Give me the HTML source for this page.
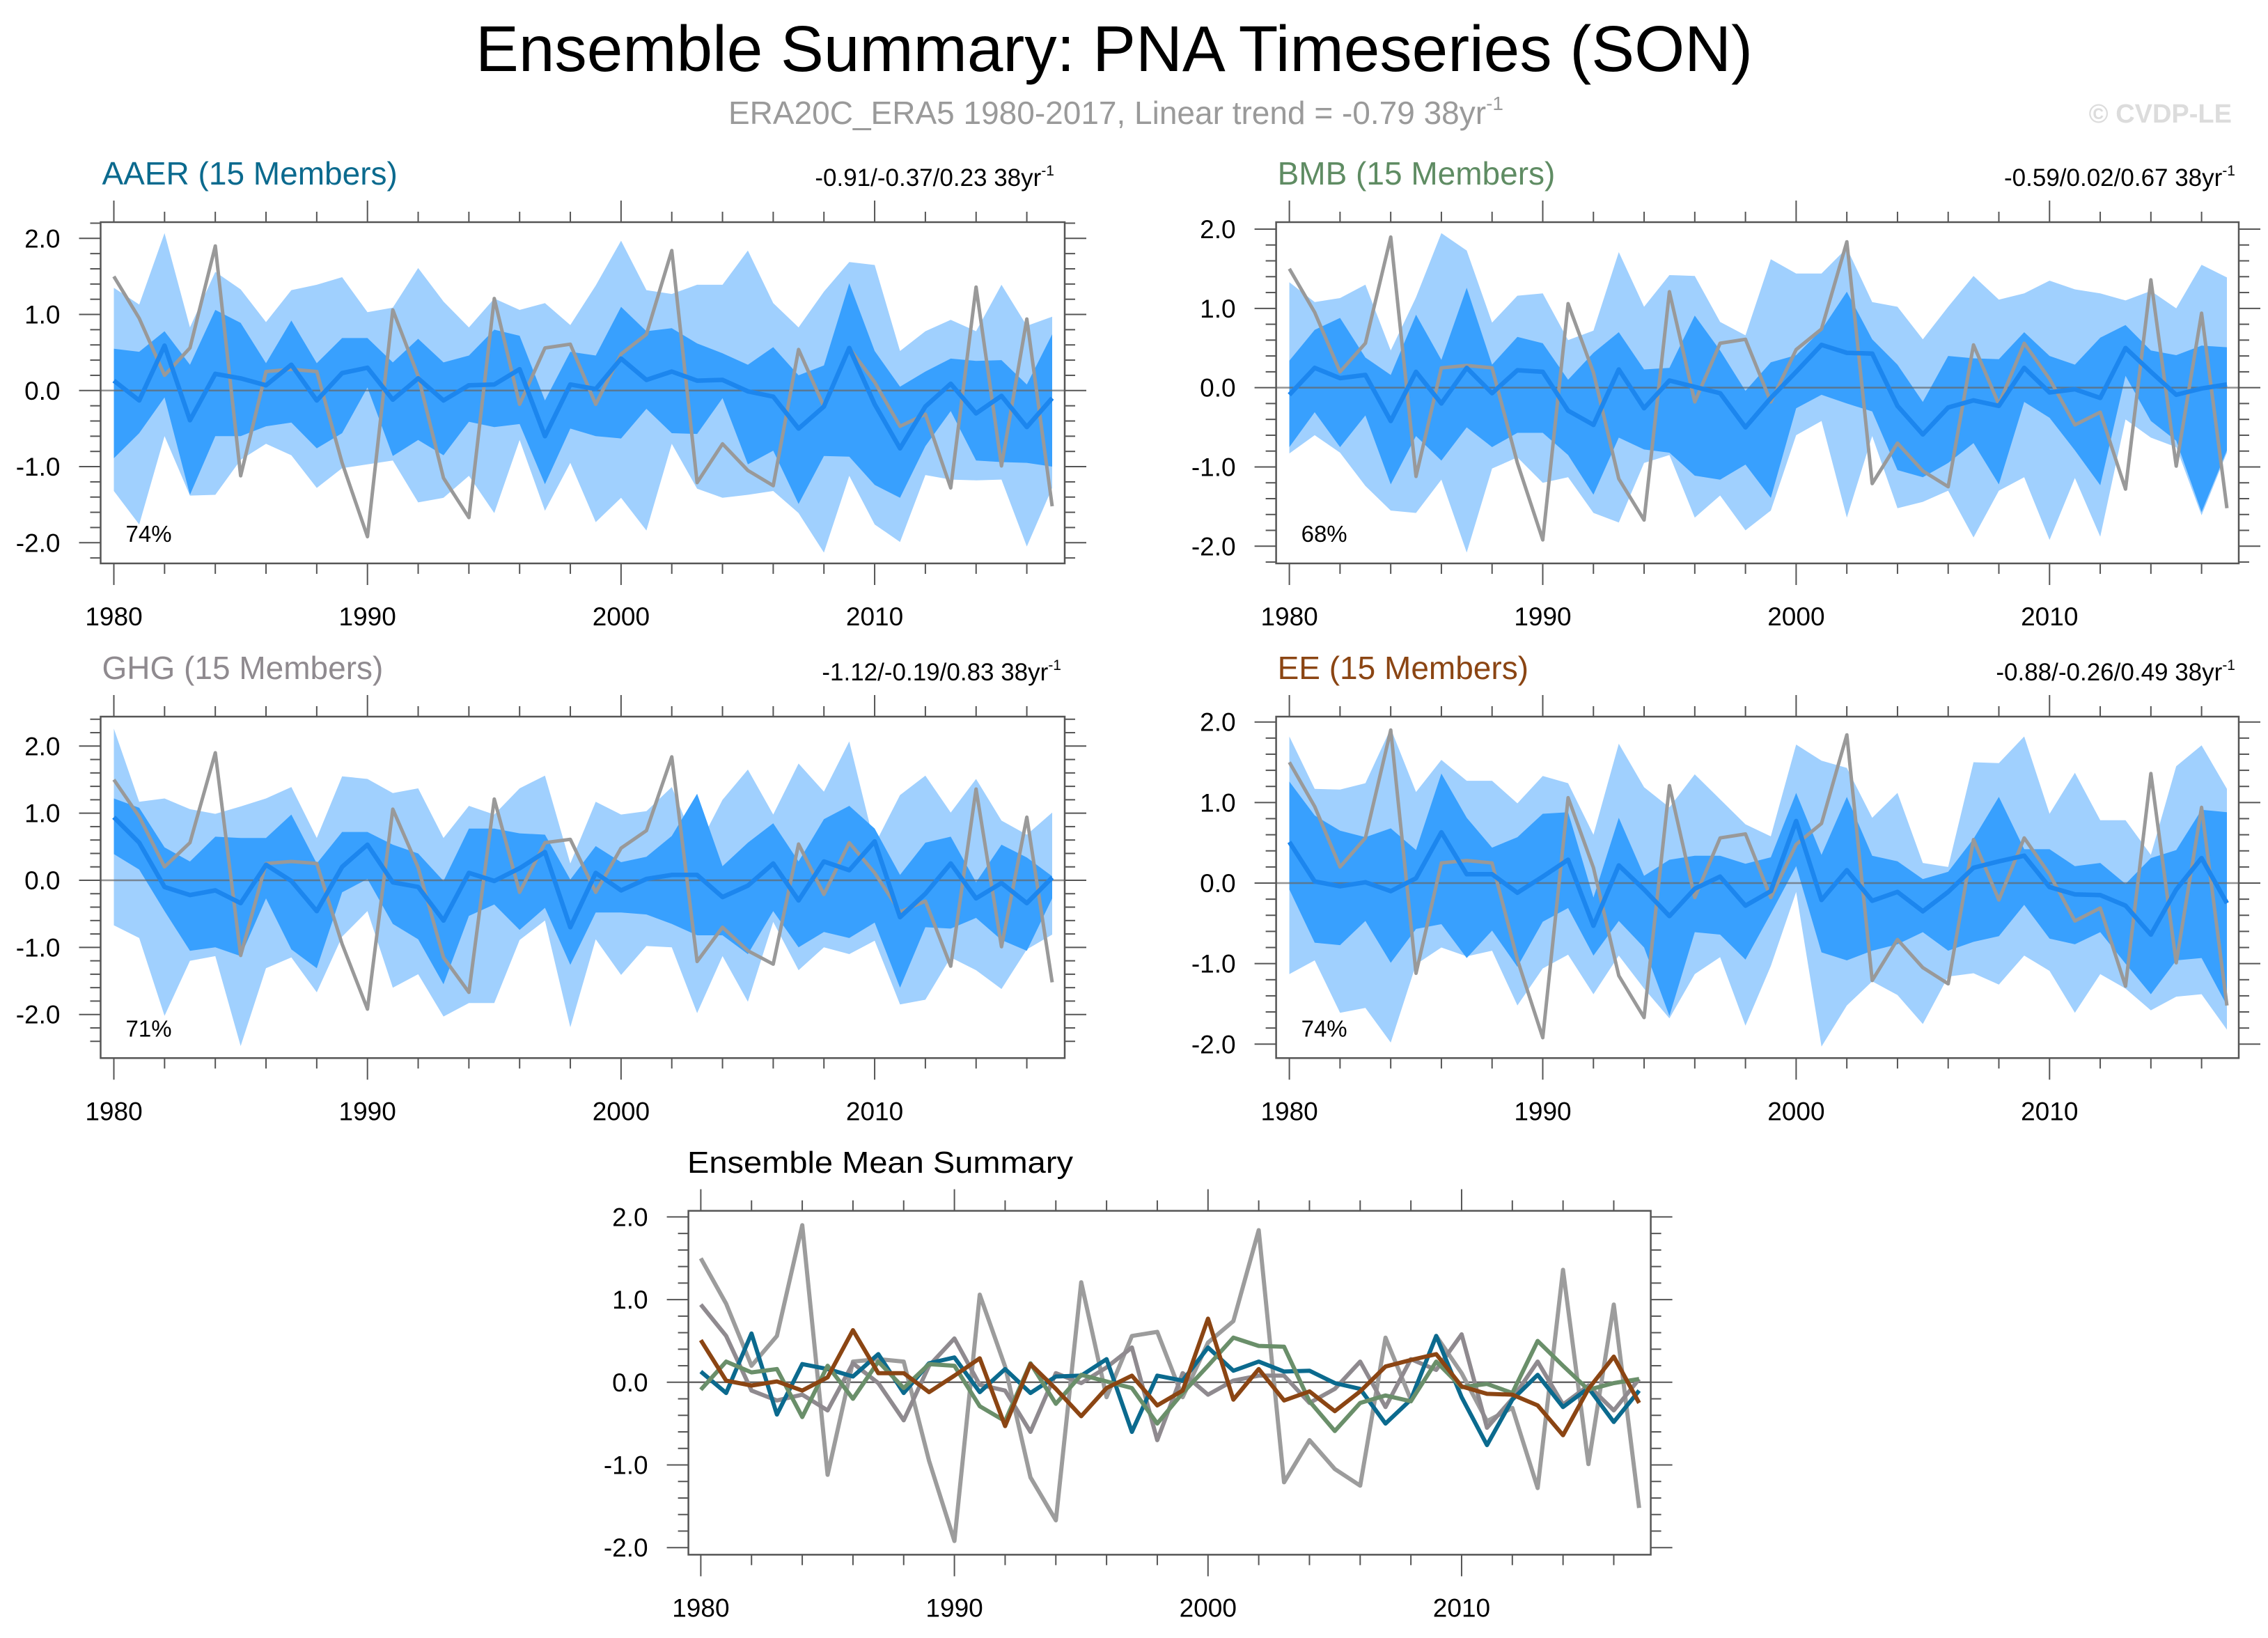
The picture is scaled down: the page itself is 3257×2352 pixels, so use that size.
<!DOCTYPE html>
<html><head><meta charset="utf-8"><title>Ensemble Summary: PNA Timeseries (SON)</title>
<style>html,body{margin:0;padding:0;background:#fff}svg{display:block}text{font-family:"Liberation Sans",Arial,sans-serif}</style>
</head><body>
<svg id="fig" xmlns="http://www.w3.org/2000/svg" width="3257" height="2352" viewBox="0 0 3257 2352">
<rect x="0" y="0" width="3257" height="2352" fill="#fff"/>
<text x="683" y="102" font-size="93" textLength="1834" lengthAdjust="spacingAndGlyphs" fill="#000">Ensemble Summary: PNA Timeseries (SON)</text>
<text x="1046" y="178" font-size="46" fill="#9a9a9a">ERA20C_ERA5 1980-2017, Linear trend = -0.79 38yr<tspan font-size="28" dy="-20">-1</tspan></text>
<text x="3205" y="176" font-size="38" font-weight="bold" fill="#dcdcdc" text-anchor="end">© CVDP-LE</text>
<g id="plots"></g>
</svg>
<script>
const years = [1980,1981,1982,1983,1984,1985,1986,1987,1988,1989,1990,1991,1992,1993,1994,1995,1996,1997,1998,1999,2000,2001,2002,2003,2004,2005,2006,2007,2008,2009,2010,2011,2012,2013,2014,2015,2016,2017];
const xTickLabels = [1980,1990,2000,2010];
const yTickLabels = ["2.0","1.0","0.0","-1.0","-2.0"];
const yTickValues = [2,1,0,-1,-2];
const obs = [1.5,0.95,0.2,0.56,1.9,-1.12,0.25,0.28,0.25,-0.95,-1.92,1.06,0.19,-1.15,-1.67,1.21,-0.18,0.56,0.61,-0.18,0.48,0.74,1.84,-1.21,-0.7,-1.05,-1.25,0.54,-0.21,0.56,0.11,-0.47,-0.31,-1.28,1.36,-0.99,0.94,-1.52];

const aaerMean = [0.13,-0.13,0.59,-0.39,0.22,0.16,0.07,0.34,-0.13,0.23,0.3,-0.12,0.16,-0.13,0.07,0.08,0.28,-0.6,0.08,0.02,0.42,0.14,0.25,0.13,0.14,-0.01,-0.08,-0.5,-0.21,0.56,-0.18,-0.76,-0.21,0.09,-0.3,-0.07,-0.48,-0.1];
const aaerOuterHi = [1.35,1.13,2.07,0.83,1.56,1.33,0.9,1.32,1.39,1.49,1.03,1.09,1.61,1.17,0.83,1.21,1.06,1.15,0.86,1.38,1.97,1.32,1.27,1.39,1.39,1.84,1.15,0.83,1.3,1.69,1.65,0.52,0.78,0.93,0.78,1.39,0.85,0.97];
const aaerInnerHi = [0.55,0.51,0.78,0.34,1.06,0.89,0.36,0.92,0.36,0.69,0.69,0.37,0.68,0.37,0.46,0.8,0.72,-0.13,0.51,0.46,1.1,0.78,0.82,0.62,0.49,0.34,0.57,0.2,0.33,1.41,0.52,0.05,0.25,0.42,0.39,0.4,0.08,0.74];
const aaerInnerLo = [-0.89,-0.56,-0.09,-1.37,-0.6,-0.6,-0.47,-0.42,-0.76,-0.56,0.04,-0.86,-0.65,-0.85,-0.41,-0.48,-0.44,-1.23,-0.5,-0.6,-0.63,-0.24,-0.56,-0.57,-0.1,-0.97,-0.79,-1.49,-0.86,-0.87,-1.24,-1.41,-0.73,-0.27,-0.92,-0.94,-0.95,-1.0];
const aaerOuterLo = [-1.32,-1.76,-0.6,-1.38,-1.37,-0.91,-0.7,-0.85,-1.28,-1.02,-0.97,-0.92,-1.47,-1.41,-1.12,-1.61,-0.65,-1.58,-0.95,-1.73,-1.41,-1.84,-0.7,-1.29,-1.41,-1.37,-1.32,-1.61,-2.13,-1.12,-1.76,-1.99,-1.11,-1.17,-1.18,-1.17,-2.05,-1.28];

const bmbMean = [-0.09,0.25,0.12,0.16,-0.42,0.2,-0.2,0.25,-0.07,0.22,0.2,-0.29,-0.47,0.23,-0.26,0.09,0.01,-0.07,-0.5,-0.13,0.2,0.54,0.44,0.43,-0.23,-0.59,-0.25,-0.16,-0.23,0.25,-0.06,-0.02,-0.13,0.5,0.2,-0.09,-0.01,0.04];
const bmbOuterHi = [1.33,1.08,1.13,1.3,0.47,1.14,1.95,1.73,0.82,1.16,1.19,0.6,0.72,1.71,1.02,1.42,1.41,0.83,0.66,1.62,1.44,1.44,1.76,1.08,1.02,0.61,1.02,1.41,1.11,1.19,1.35,1.24,1.19,1.1,1.22,1.0,1.55,1.39];
const bmbInnerHi = [0.34,0.73,0.88,0.38,0.16,0.92,0.35,1.26,0.29,0.64,0.56,0.1,0.44,0.7,0.23,0.25,0.91,0.47,-0.04,0.32,0.41,0.73,1.21,0.61,0.29,-0.18,0.4,0.37,0.36,0.7,0.4,0.29,0.63,0.79,0.47,0.41,0.53,0.51];
const bmbInnerLo = [-0.75,-0.31,-0.75,-0.35,-1.22,-0.61,-0.92,-0.5,-0.75,-0.57,-0.57,-0.85,-1.35,-0.63,-0.78,-0.82,-1.11,-1.16,-0.97,-1.39,-0.26,-0.09,-0.2,-0.3,-1.04,-1.13,-0.95,-0.7,-1.22,-0.18,-0.38,-0.79,-1.23,0.15,-0.42,-0.67,-1.57,-0.79];
const bmbOuterLo = [-0.83,-0.6,-0.82,-1.24,-1.55,-1.58,-1.16,-2.08,-1.02,-0.88,-1.2,-1.13,-1.58,-1.7,-0.95,-0.85,-1.64,-1.36,-1.8,-1.55,-0.6,-0.42,-1.64,-0.61,-1.52,-1.44,-1.3,-1.89,-1.3,-1.13,-1.92,-1.14,-1.88,-0.4,-0.63,-0.75,-1.61,-0.82];

const ghgMean = [0.94,0.56,-0.1,-0.22,-0.15,-0.34,0.23,-0.01,-0.46,0.2,0.53,-0.03,-0.1,-0.6,0.11,-0.01,0.18,0.42,-0.7,0.11,-0.15,0.02,0.08,0.08,-0.25,-0.08,0.25,-0.3,0.28,0.15,0.58,-0.55,-0.2,0.25,-0.27,-0.04,-0.34,0.04];
const ghgOuterHi = [2.26,1.17,1.22,1.06,0.99,1.1,1.22,1.39,0.63,1.55,1.51,1.3,1.37,0.63,1.11,0.98,1.37,1.56,0.25,1.17,0.98,1.03,1.39,0.47,1.2,1.65,0.98,1.74,1.32,2.07,0.53,1.27,1.56,1.01,1.51,0.89,0.68,1.01];
const ghgInnerHi = [1.22,1.08,0.49,0.28,0.65,0.63,0.63,0.98,0.25,0.72,0.72,0.53,0.4,-0.01,0.77,0.77,0.7,0.68,0.01,0.51,0.27,0.35,0.66,1.29,0.21,0.56,0.85,0.28,0.91,1.11,0.77,0.08,0.56,0.65,-0.03,0.53,0.34,0.06];
const ghgInnerLo = [0.39,0.16,-0.46,-1.05,-1.0,-1.13,-0.27,-1.03,-1.31,-0.18,0.02,-0.65,-0.88,-1.55,-0.53,-0.36,-0.74,-0.41,-1.26,-0.48,-0.48,-0.51,-0.65,-0.82,-0.82,-1.1,-0.46,-1.0,-0.77,-0.86,-0.63,-1.6,-0.7,-0.72,-0.56,-0.89,-1.05,-0.27];
const ghgOuterLo = [-0.67,-0.86,-2.02,-1.2,-1.13,-2.47,-1.31,-1.15,-1.67,-0.84,-0.46,-1.6,-1.4,-2.03,-1.83,-1.83,-0.89,-0.6,-2.19,-0.88,-1.41,-0.98,-1.0,-1.98,-1.13,-1.81,-0.62,-1.34,-1.0,-1.1,-0.9,-1.85,-1.78,-1.15,-1.34,-1.62,-1.03,-0.81];

const eeMean = [0.51,0.02,-0.04,0.01,-0.1,0.06,0.63,0.11,0.11,-0.12,0.08,0.29,-0.53,0.22,-0.08,-0.41,-0.07,0.08,-0.28,-0.1,0.77,-0.21,0.16,-0.22,-0.11,-0.35,-0.11,0.19,0.27,0.34,-0.05,-0.14,-0.15,-0.28,-0.64,-0.08,0.31,-0.25];
const eeOuterHi = [1.82,1.17,1.16,1.24,1.92,1.13,1.53,1.27,1.27,0.99,1.33,1.24,0.6,1.73,1.19,0.94,1.35,1.04,0.73,0.58,1.72,1.52,1.43,0.81,1.12,0.25,0.2,1.5,1.49,1.82,0.86,1.37,0.78,0.78,0.35,1.45,1.71,1.17];
const eeInnerHi = [1.26,0.84,0.65,0.57,0.68,0.41,1.36,0.81,0.44,0.57,0.86,0.88,-0.18,0.81,0.09,0.29,0.34,0.34,0.24,0.32,1.12,0.35,1.07,0.34,0.27,0.05,0.14,0.55,1.07,0.42,0.42,0.21,0.25,-0.01,0.31,0.41,0.91,0.88];
const eeInnerLo = [-0.08,-0.74,-0.77,-0.47,-0.99,-0.57,-0.51,-0.93,-0.59,-1.04,-0.48,-0.31,-0.9,-0.47,-0.8,-1.65,-0.61,-0.64,-0.95,-0.38,0.21,-0.86,-0.96,-0.84,-0.76,-0.61,-0.84,-0.73,-0.66,-0.27,-0.69,-0.76,-0.61,-1.0,-1.38,-0.96,-0.93,-1.52];
const eeOuterLo = [-1.13,-0.96,-1.61,-1.55,-1.98,-1.01,-0.8,-0.91,-0.84,-1.52,-1.06,-0.89,-1.38,-0.9,-1.31,-1.68,-1.13,-0.92,-1.77,-1.03,-0.11,-2.03,-1.52,-1.22,-1.39,-1.75,-1.16,-1.12,-1.26,-0.9,-1.09,-1.61,-1.13,-1.31,-1.58,-1.41,-1.38,-1.82];

const NS = "http://www.w3.org/2000/svg";
const root = document.getElementById("plots");
function mk(tag, parent){ const e = document.createElementNS(NS, tag); parent.appendChild(e); return e; }

const panelLayouts = [
  {name:"aaer", title:"AAER (15 Members)", color:"#0b6a8e", trend:"-0.91/-0.37/0.23 38yr", pct:"74%", mean:aaerMean, oh:aaerOuterHi, ih:aaerInnerHi, il:aaerInnerLo, ol:aaerOuterLo, bx0:144.5, bx1:1529, by0:319, by1:809, x0:163.5, x1:1511, y2:342.3, ym2:779.3, trendX:1514},
  {name:"bmb", title:"BMB (15 Members)", color:"#5f8c63", trend:"-0.59/0.02/0.67 38yr", pct:"68%", mean:bmbMean, oh:bmbOuterHi, ih:bmbInnerHi, il:bmbInnerLo, ol:bmbOuterLo, bx0:1832.6, bx1:3215, by0:319, by1:809, x0:1851.6, x1:3198, y2:329, ym2:784.3, trendX:3210},
  {name:"ghg", title:"GHG (15 Members)", color:"#8f8a8f", trend:"-1.12/-0.19/0.83 38yr", pct:"71%", mean:ghgMean, oh:ghgOuterHi, ih:ghgInnerHi, il:ghgInnerLo, ol:ghgOuterLo, bx0:144.5, bx1:1529, by0:1029, by1:1519.3, x0:163.5, x1:1511, y2:1071.3, ym2:1456.7, trendX:1524},
  {name:"ee", title:"EE (15 Members)", color:"#8b4513", trend:"-0.88/-0.26/0.49 38yr", pct:"74%", mean:eeMean, oh:eeOuterHi, ih:eeInnerHi, il:eeInnerLo, ol:eeOuterLo, bx0:1832.6, bx1:3215, by0:1029, by1:1519.3, x0:1851.6, x1:3198, y2:1036.7, ym2:1499.3, trendX:3210}
];

function axes(L, g){
  const xs = v => L.x0 + (v - years[0]) * (L.x1 - L.x0) / (years[years.length-1] - years[0]);
  const ys = v => (L.y2 + L.ym2)/2 - v * (L.ym2 - L.y2) / 4;
  return {xs, ys};
}

function drawFrame(L, g, xs, ys){
  const tk = mk("g", g);
  
  
  tk.setAttribute("stroke", "#555");
  tk.setAttribute("stroke-width", "2");
  for (let yr = years[0]; yr <= years[years.length-1]; yr += 2) {
    const major = (yr % 10 === 0);
    const len = major ? 31 : 15;
    const x = xs(yr);
    const t1 = mk("line", tk);
    
    
    t1.setAttribute("x1", x); t1.setAttribute("x2", x); t1.setAttribute("y1", L.by1); t1.setAttribute("y2", L.by1 + len);
    const t2 = mk("line", tk);
    
    
    t2.setAttribute("x1", x); t2.setAttribute("x2", x); t2.setAttribute("y1", L.by0); t2.setAttribute("y2", L.by0 - len);
  }
  for (let k = -12; k <= 12; k++) {
    const v = k * 0.2;
    const y = ys(v);
    if (y < L.by0 - 0.5 || y > L.by1 + 0.5) continue;
    const major = (k % 5 === 0);
    const len = major ? 31 : 15;
    const t1 = mk("line", tk);
    
    
    t1.setAttribute("x1", L.bx0); t1.setAttribute("x2", L.bx0 - len); t1.setAttribute("y1", y); t1.setAttribute("y2", y);
    const t2 = mk("line", tk);
    
    
    t2.setAttribute("x1", L.bx1); t2.setAttribute("x2", L.bx1 + len); t2.setAttribute("y1", y); t2.setAttribute("y2", y);
  }
  const box = mk("rect", g);
  
  
  box.setAttribute("x", L.bx0); box.setAttribute("y", L.by0);
  box.setAttribute("width", L.bx1 - L.bx0); box.setAttribute("height", L.by1 - L.by0);
  box.setAttribute("fill", "none"); box.setAttribute("stroke", "#555"); box.setAttribute("stroke-width", "2.5");
  xTickLabels.forEach(v => {
    const t = mk("text", g);
    
    
    t.setAttribute("x", xs(v)); t.setAttribute("y", L.by1 + 89);
    t.setAttribute("font-size", "37"); t.setAttribute("text-anchor", "middle");
    t.textContent = v;
  });
  yTickLabels.forEach((lab, i) => {
    const t = mk("text", g);
    
    
    t.setAttribute("x", L.bx0 - 58); t.setAttribute("y", ys(yTickValues[i]) + 13);
    t.setAttribute("font-size", "37"); t.setAttribute("text-anchor", "end");
    t.textContent = lab;
  });
}

function linePath(xs, ys, vals){
  return vals.map((v, i) => (i ? "L" : "M") + xs(years[i]).toFixed(1) + "," + ys(v).toFixed(1)).join("");
}
function bandPath(xs, ys, hi, lo){
  let d = hi.map((v, i) => (i ? "L" : "M") + xs(years[i]).toFixed(1) + "," + ys(v).toFixed(1)).join("");
  for (let i = lo.length - 1; i >= 0; i--) d += "L" + xs(years[i]).toFixed(1) + "," + ys(lo[i]).toFixed(1);
  return d + "Z";
}

panelLayouts.forEach(L => {
  const g = mk("g", root);
  
  
  const {xs, ys} = axes(L, g);

  const outer = mk("path", g);
  
  
  outer.setAttribute("d", bandPath(xs, ys, L.oh, L.ol));
  outer.setAttribute("fill", "#a0d0fe");

  const inner = mk("path", g);
  
  
  inner.setAttribute("d", bandPath(xs, ys, L.ih, L.il));
  inner.setAttribute("fill", "#38a0fe");

  const zero = mk("line", g);
  
  
  zero.setAttribute("x1", L.bx0); zero.setAttribute("x2", L.bx1);
  zero.setAttribute("y1", ys(0)); zero.setAttribute("y2", ys(0));
  zero.setAttribute("stroke", "#666"); zero.setAttribute("stroke-width", "2.5"); zero.setAttribute("stroke-opacity", "0.7");

  const o = mk("path", g);
  
  
  o.setAttribute("d", linePath(xs, ys, obs));
  o.setAttribute("fill", "none"); o.setAttribute("stroke", "#999"); o.setAttribute("stroke-width", "5"); o.setAttribute("stroke-linejoin", "round");

  const m = mk("path", g);
  
  
  m.setAttribute("d", linePath(xs, ys, L.mean));
  m.setAttribute("fill", "none"); m.setAttribute("stroke", "#1c86ee"); m.setAttribute("stroke-width", "6.5"); m.setAttribute("stroke-linejoin", "round");

  drawFrame(L, g, xs, ys);

  const ti = mk("text", g);
  
  
  ti.setAttribute("x", L.bx0 + 2); ti.setAttribute("y", L.by0 - 54);
  ti.setAttribute("font-size", "46"); ti.setAttribute("fill", L.color);
  ti.textContent = L.title;

  const tr = mk("text", g);
  
  
  tr.setAttribute("x", L.trendX); tr.setAttribute("y", L.by0 - 52);
  tr.setAttribute("font-size", "35"); tr.setAttribute("text-anchor", "end");
  tr.textContent = L.trend;
  const sup = mk("tspan", tr);
  
  
  sup.setAttribute("font-size", "21"); sup.setAttribute("dy", "-15");
  sup.textContent = "-1";

  const pc = mk("text", g);
  
  
  pc.setAttribute("x", L.bx0 + 36); pc.setAttribute("y", L.by1 - 31);
  pc.setAttribute("font-size", "33");
  pc.textContent = L.pct;
});

const S = {name:"summary", bx0:988.6, bx1:2370.6, by0:1738.6, by1:2232.4, x0:1006.4, x1:2353.9, y2:1747.4, ym2:2222.2};
const sg = mk("g", root);


const sax = axes(S, sg);
const zs = mk("line", sg);


zs.setAttribute("x1", S.bx0); zs.setAttribute("x2", S.bx1);
zs.setAttribute("y1", sax.ys(0)); zs.setAttribute("y2", sax.ys(0));
zs.setAttribute("stroke", "#666"); zs.setAttribute("stroke-width", "2.5");
const summarySeries = [
  {n:"observed-line", v:obs, c:"#9c9c9c"},
  {n:"ghg-mean-line", v:ghgMean, c:"#8f8a8f"},
  {n:"aaer-mean-line", v:aaerMean, c:"#0b6a8e"},
  {n:"bmb-mean-line", v:bmbMean, c:"#6a8f6a"},
  {n:"ee-mean-line", v:eeMean, c:"#8b4513"}
];
summarySeries.forEach(s => {
  const p = mk("path", sg);
  
  
  p.setAttribute("d", linePath(sax.xs, sax.ys, s.v));
  p.setAttribute("fill", "none"); p.setAttribute("stroke", s.c); p.setAttribute("stroke-width", "6"); p.setAttribute("stroke-linejoin", "round");
});
drawFrame(S, sg, sax.xs, sax.ys);
const st = mk("text", sg);


st.setAttribute("x", 987); st.setAttribute("y", 1684);
st.setAttribute("font-size", "44");
st.setAttribute("textLength", "554");
st.setAttribute("lengthAdjust", "spacingAndGlyphs");
st.textContent = "Ensemble Mean Summary";
</script>
</body></html>
